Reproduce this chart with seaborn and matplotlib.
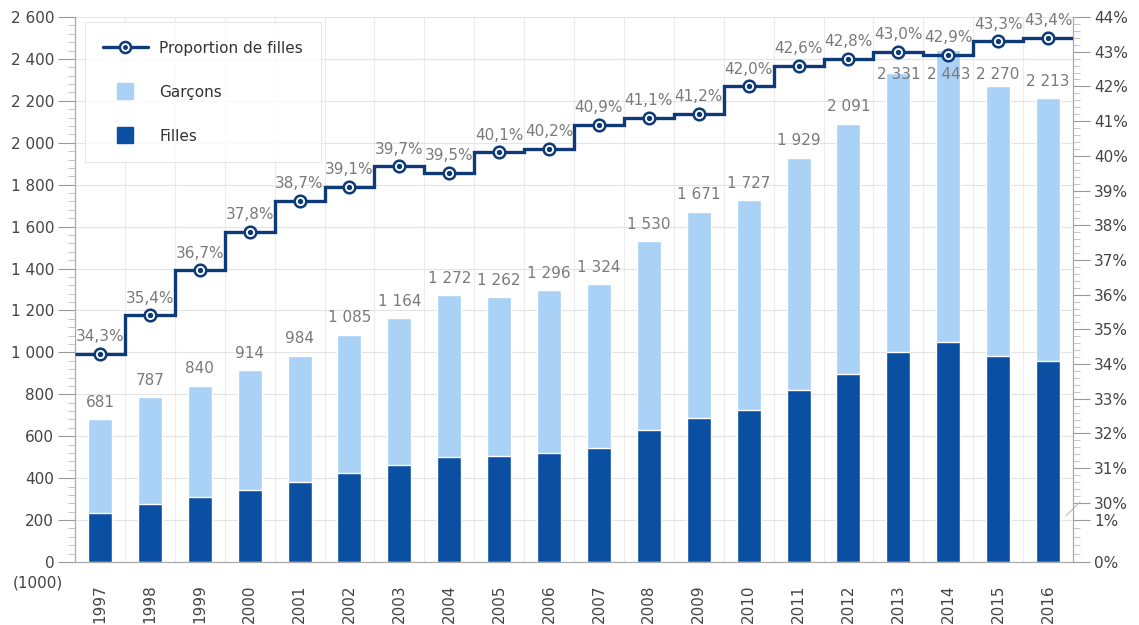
import numpy as np
import pandas as pd
import matplotlib
matplotlib.use("Agg")
import matplotlib.pyplot as plt
import seaborn as sns
from matplotlib.lines import Line2D
from matplotlib.legend_handler import HandlerTuple
from matplotlib.ticker import FixedLocator, FuncFormatter

# Data
years = [str(y) for y in range(1997, 2017)]
total = [681, 787, 840, 914, 984, 1085, 1164, 1272, 1262, 1296,
         1324, 1530, 1671, 1727, 1929, 2091, 2331, 2443, 2270, 2213]
filles = [234, 279, 308, 345, 381, 424, 462, 502, 506, 521,
          542, 629, 688, 725, 822, 895, 1002, 1048, 983, 960]
proportion = [34.3, 35.4, 36.7, 37.8, 38.7, 39.1, 39.7, 39.5, 40.1, 40.2,
              40.9, 41.1, 41.2, 42.0, 42.6, 42.8, 43.0, 42.9, 43.3, 43.4]

df = pd.DataFrame({"annee": years, "total": total, "filles": filles, "prop": proportion})

LIGHT = "#a9d2f6"
DARK = "#0b4fa3"
NAVY = "#0e3a78"
GRAY_TXT = "#7a7a7a"
AX_TXT = "#444444"
FS = 11

sns.set_style("white")
plt.rcParams["font.family"] = ["DejaVu Sans"]

fig = plt.figure(figsize=(11.39, 6.25), dpi=100)
ax = fig.add_axes([75 / 1139, 1 - 562 / 625, 998 / 1139, 545 / 625])

# stacked bars: total (garçons on top) then filles at the bottom
sns.barplot(data=df, x="annee", y="total", color=LIGHT, width=0.48, ax=ax, saturation=1)
sns.barplot(data=df, x="annee", y="filles", color=DARK, width=0.48, ax=ax, saturation=1)

# value labels (the highest ones are held under the line, as in the original)
for i, t in enumerate(total):
    ax.text(i, min(t + 45, 2290), f"{t:,}".replace(",", " "), ha="center", va="bottom",
            fontsize=FS, color=GRAY_TXT, zorder=2)

ax.set_xlim(-0.5, len(years) - 0.5)
ax.set_ylim(0, 2600)
ax.set_xlabel("")
ax.set_ylabel("")

# left axis ticks
ax.yaxis.set_major_locator(FixedLocator(np.arange(0, 2601, 200)))
ax.yaxis.set_minor_locator(FixedLocator(np.arange(0, 2601, 40)))
ax.yaxis.set_major_formatter(FuncFormatter(lambda v, p: f"{int(v):,}".replace(",", " ")))
ax.tick_params(axis="y", which="major", length=12, color="#999999", labelsize=FS,
               labelcolor=AX_TXT, pad=3)
ax.tick_params(axis="y", which="minor", length=5, color="#bbbbbb")

# x axis: ticks at boundaries, labels at centres
ax.set_xticks(range(len(years)))
ax.set_xticklabels(years, rotation=90, fontsize=FS, color=AX_TXT)
ax.tick_params(axis="x", which="major", length=0, pad=16)
ax.xaxis.set_minor_locator(FixedLocator(np.arange(-0.5, len(years), 1)))
ax.tick_params(axis="x", which="minor", length=8, color="#aaaaaa")

ax.grid(axis="y", which="major", color="#e4e4e4", lw=0.8)
ax.grid(axis="x", which="minor", color="#ececec", lw=0.8)
ax.set_axisbelow(True)
ax.spines["top"].set_visible(False)
for s in ["left", "bottom", "right"]:
    ax.spines[s].set_color("#aaaaaa")

ax.text(-0.037, -0.025, "(1000)", transform=ax.transAxes, ha="center", va="top",
        fontsize=FS, color=AX_TXT)

# right axis with a broken percentage scale (0-1 %, then 30-44 %)
pct_pts = [0, 1, 30, 44]
val_pts = [0, 200, 282, 2600]


def fwd(p):
    return np.interp(p, pct_pts, val_pts)


def inv(v):
    return np.interp(v, val_pts, pct_pts)


ax2 = ax.twinx()
ax2.set_yscale("function", functions=(fwd, inv))
ax2.set_ylim(0, 44)
ax2.yaxis.set_major_locator(FixedLocator([0, 1] + list(range(30, 45))))
ax2.yaxis.set_minor_locator(FixedLocator(list(np.arange(0, 1.01, 0.2)) + list(np.arange(30, 44.01, 0.2))))
ax2.yaxis.set_major_formatter(FuncFormatter(lambda v, p: f"{int(round(v))}%"))
ax2.tick_params(axis="y", which="major", length=12, color="#999999", labelsize=FS,
                labelcolor=AX_TXT, pad=3)
ax2.tick_params(axis="y", which="minor", length=5, color="#bbbbbb")
ax2.spines["top"].set_visible(False)
for s in ["left", "bottom", "right"]:
    ax2.spines[s].set_color("#aaaaaa")
# break mark on the right axis
ax2.plot([0.993, 1.007], [0.085, 0.11], transform=ax2.transAxes, color="#bbbbbb",
         lw=0.8, clip_on=False)

# step line for the proportion
edges = np.arange(-0.5, len(years), 1.0)
ax2.stairs(proportion, edges, baseline=None, color=NAVY, lw=2.4, zorder=3)
ax2.scatter(range(len(years)), proportion, s=70, facecolor="white", edgecolor=NAVY,
            linewidth=1.8, zorder=4)
ax2.scatter(range(len(years)), proportion, s=8, color=NAVY, zorder=5)
for i, p in enumerate(proportion):
    ax2.annotate(f"{p:.1f}%".replace(".", ","), (i, p), xytext=(0, 7),
                 textcoords="offset points", ha="center", va="bottom",
                 fontsize=FS, color=GRAY_TXT, zorder=6)

# legend
h_line = Line2D([], [], color=NAVY, lw=2.4, marker="o", markersize=8,
                markerfacecolor="white", markeredgecolor=NAVY, markeredgewidth=1.8)
h_dot = Line2D([], [], ls="none", marker="o", markersize=2.5, color=NAVY)
h_g = Line2D([], [], ls="none", marker="s", markersize=12, color=LIGHT)
h_f = Line2D([], [], ls="none", marker="s", markersize=12, color=DARK)
handles = [(h_line, h_dot), h_g, h_f]
labels = ["Proportion de filles", "Garçons", "Filles"]
leg = ax2.legend(handles, labels, loc="upper left", bbox_to_anchor=(0.010, 0.99),
                 borderaxespad=0, frameon=True, fontsize=11, labelspacing=1.9,
                 handlelength=2.9, handleheight=0.8, handletextpad=0.75,
                 borderpad=1.2, fancybox=False,
                 handler_map={tuple: HandlerTuple(ndivide=1, pad=0)})
leg.get_frame().set_edgecolor("#e2e2e2")
leg.get_frame().set_linewidth(0.8)
for t in leg.get_texts():
    t.set_color("#333333")

fig.savefig("out.png", dpi=100)
